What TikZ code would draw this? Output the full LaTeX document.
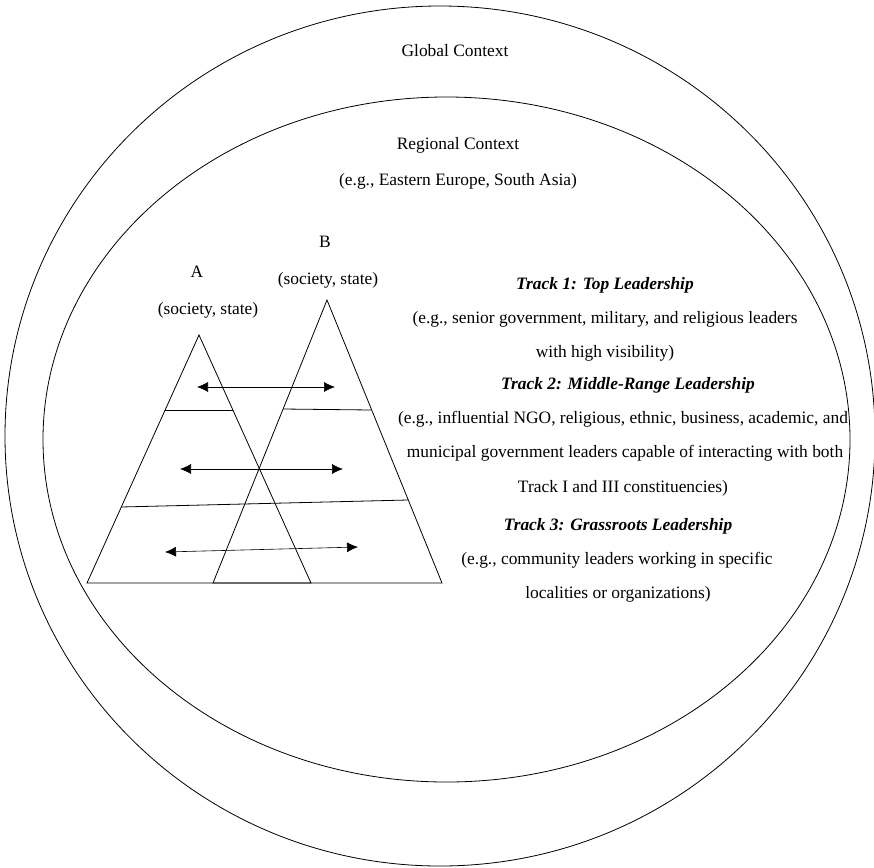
\documentclass[tikz,border=0pt]{standalone}
\usepackage{fontspec}
\setmainfont{Liberation Serif}
\usepackage{tikz}
\usetikzlibrary{arrows.meta}

\begin{document}
\begin{tikzpicture}[x=1pt,y=-1pt,line width=0.8pt,
  every node/.style={font=\fontsize{17.4}{20}\selectfont,inner sep=0pt},
  track/.style={font=\fontsize{17.4}{20}\selectfont\bfseries\itshape},
  link/.style={{Latex[length=11pt,width=10pt]}-{Latex[length=11pt,width=10pt]},line width=0.6pt}]
  \useasboundingbox (0,0) rectangle (874,867);

  % contexts
  \draw (440,436) ellipse [x radius=435, y radius=430];
  \draw (446.5,439.5) ellipse [x radius=403.5, y radius=342.5];
  \draw (455,51) node (global) {Global Context};
  \draw (458,145) node (regional) {Regional Context};
  \draw (458,181) node (region-eg) {(e.g., Eastern Europe, South Asia)};

  % pyramid A and pyramid B
  \coordinate (A-top) at (199,335);
  \coordinate (A-left) at (87,583);
  \coordinate (A-right) at (311,583);
  \coordinate (B-top) at (327,300);
  \coordinate (B-left) at (213,583);
  \coordinate (B-right) at (442,583);
  \draw (A-top) -- (A-left) -- (A-right) -- cycle;
  \draw (B-top) -- (B-left) -- (B-right) -- cycle;
  \draw (197,272) node (A) {A};
  \draw (208,310) node (A-sub) {(society, state)};
  \draw (325,242) node (B) {B};
  \draw (328,280) node (B-sub) {(society, state)};

  % levels
  \coordinate (A1l) at (165,410);
  \coordinate (A1r) at (233,410);
  \coordinate (B1l) at (283,409);
  \coordinate (B1r) at (371,410);
  \coordinate (L2l) at (121,507);
  \coordinate (L2r) at (408,500);
  \path[-] (A1l) edge (A1r);
  \path[-] (B1l) edge (B1r);
  \path[-] (L2l) edge (L2r);

  % links between A and B
  \coordinate (t1a) at (197,387);
  \coordinate (t1b) at (335,387);
  \coordinate (t2a) at (180,469);
  \coordinate (t2b) at (343,469);
  \coordinate (t3a) at (165,552);
  \coordinate (t3b) at (358,547);
  \path[link] (t1a) edge (t1b);
  \path[link] (t2a) edge (t2b);
  \path[link] (t3a) edge (t3b);

  % tracks
  \draw (605,285) node[track] (track1) {Track 1: Top Leadership};
  \draw (605,319) node (track1-a) {(e.g., senior government, military, and religious leaders};
  \draw (605,353) node (track1-b) {with high visibility)};
  \draw (628,385) node[track] (track2) {Track 2: Middle-Range Leadership};
  \draw (623,419) node (track2-a) {(e.g., influential NGO, religious, ethnic, business, academic, and};
  \draw (625,453) node (track2-b) {municipal government leaders capable of interacting with both};
  \draw (623,488) node (track2-c) {Track I and III constituencies)};
  \draw (618,526) node[track] (track3) {Track 3: Grassroots Leadership};
  \draw (617,560) node (track3-a) {(e.g., community leaders working in specific};
  \draw (618,594) node (track3-b) {localities or organizations)};

\end{tikzpicture}
\end{document}
